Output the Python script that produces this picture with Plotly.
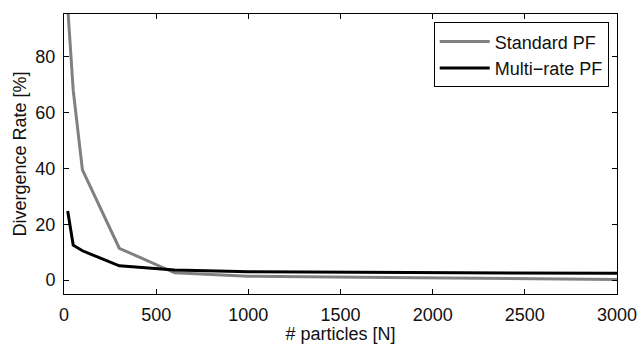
import plotly.graph_objects as go

x_std = [20, 50, 100, 300, 600, 1000, 1600, 3000]
y_std = [98, 68, 39.5, 11.4, 2.6, 1.4, 1.0, 0.2]
x_mr = [20, 50, 100, 300, 600, 1000, 1600, 3000]
y_mr = [24.8, 12.5, 10.5, 5.1, 3.6, 3.0, 2.8, 2.4]
x_ticks = [0, 500, 1000, 1500, 2000, 2500, 3000]
y_ticks = [0, 20, 40, 60, 80]

font = dict(family="Liberation Sans, Arial, sans-serif", size=18, color="#111111")

fig = go.Figure()
fig.add_trace(go.Scatter(x=x_std, y=y_std, mode="lines", name="Standard PF",
                         line=dict(color="#808080", width=3)))
fig.add_trace(go.Scatter(x=x_mr, y=y_mr, mode="lines", name="Multi\u2212rate PF",
                         line=dict(color="black", width=3)))

axis_common = dict(showline=True, linecolor="black", linewidth=1, mirror="allticks",
                   ticks="inside", ticklen=5, tickcolor="black", showgrid=False,
                   zeroline=False, tickfont=font, automargin=False)
fig.update_xaxes(range=[0, 3000], tickvals=x_ticks, ticklabelstandoff=4,
                 title=dict(text="# particles [N]", font=font, standoff=0), **axis_common)
fig.update_yaxes(range=[-5, 95.4], tickvals=y_ticks, ticklabelstandoff=4,
                 title=dict(text="Divergence Rate [%]", font=font, standoff=4), **axis_common)

fig.update_layout(
    width=640, height=344,
    margin=dict(l=64, r=23, t=14, b=50),
    plot_bgcolor="white", paper_bgcolor="white",
    font=font,
    legend=dict(x=0.985, y=0.97, xanchor="right", yanchor="top",
                bordercolor="black", borderwidth=1, bgcolor="white",
                font=font, tracegroupgap=0, itemwidth=50),
    showlegend=True,
)

fig.write_html("out.html")
